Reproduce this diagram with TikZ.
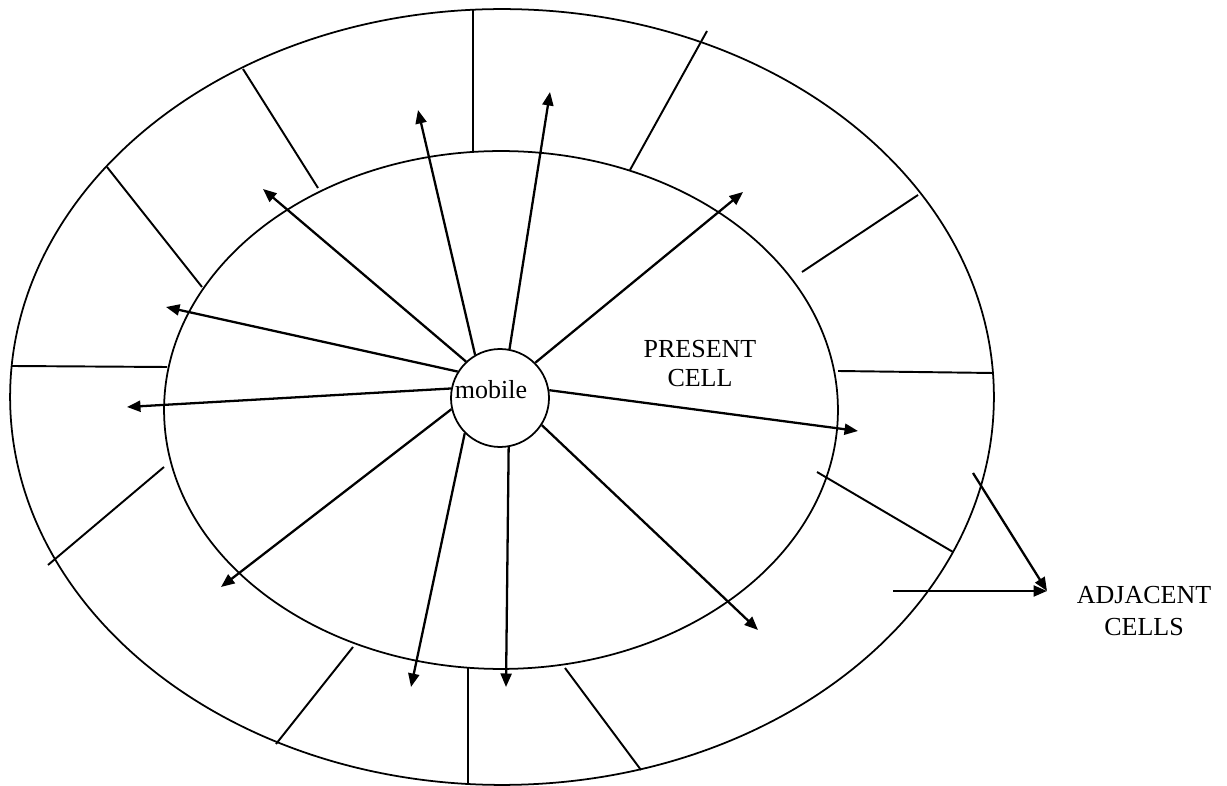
\documentclass[tikz,border=0pt]{standalone}
\usepackage{fontspec}
\setmainfont{Liberation Serif}
\usetikzlibrary{arrows.meta}
\begin{document}
\begin{tikzpicture}[x=0.02cm,y=-0.02cm,
  ring/.style={line width=1pt},
  wall/.style={line width=1.1pt},
  ray/.style={line width=1.3pt,-{Triangle[length=0.27cm,width=0.22cm]}},
  txt/.style={font=\fontsize{14.8}{16.5}\selectfont,align=center,inner sep=0pt}]
\useasboundingbox (0,0) rectangle (1227,786);
\draw[ring] (502,397) ellipse [x radius=9.84cm,y radius=7.76cm];
\draw[ring] (501,410) ellipse [x radius=6.74cm,y radius=5.18cm];
\draw[wall] (473,10)--(473,151);
\draw[wall] (243,69)--(318,188);
\draw[wall] (107,167)--(202,287);
\draw[wall] (12,366)--(167,367);
\draw[wall] (48,565)--(164,467);
\draw[wall] (276,744)--(353,647);
\draw[wall] (468,667)--(468,785);
\draw[wall] (565,668)--(641,770);
\draw[wall] (817,472)--(953,552);
\draw[wall] (838,371)--(993,373);
\draw[wall] (802,272)--(918,195);
\draw[wall] (630,170)--(707,31);
\node[circle,draw,ring,minimum size=1.96cm,inner sep=0pt,
  label={[txt,xshift=-0.18cm,yshift=0.16cm]center:mobile}] (mobile) at (500,398) {};
\coordinate (ta) at (263,189);
\coordinate (tb) at (418,110);
\coordinate (tc) at (550,92);
\coordinate (td) at (743,192);
\coordinate (te) at (166,307);
\coordinate (tf) at (127,407);
\coordinate (tg) at (858,431);
\coordinate (th) at (221,587);
\coordinate (ti) at (411,687);
\coordinate (tj) at (506,687);
\coordinate (tk) at (758,630);
\draw[ray] (mobile.133)--(ta);
\draw[ray] (mobile.120)--(tb);
\draw[ray] (mobile.79)--(tc);
\draw[ray] (mobile.45)--(td);
\draw[ray] (mobile.148)--(te);
\draw[ray] (mobile.169)--(tf);
\draw[ray] (mobile.9)--(tg);
\draw[ray] (mobile.193)--(th);
\draw[ray] (mobile.225)--(ti);
\draw[ray] (mobile.280)--(tj);
\draw[ray] (mobile.327)--(tk);
\node[txt] (present) at (700,364) {PRESENT\\CELL};
\node[txt,font=\fontsize{14.8}{18.2}\selectfont] (adjacent) at (1144,611) {ADJACENT\\CELLS};
\coordinate (adjtip) at (1047,591);
\coordinate (adja) at (973,473);
\coordinate (adjb) at (893,591);
\draw[ray] (adja)--(adjtip);
\draw[ray] (adjb)--(adjtip);
\end{tikzpicture}
\end{document}
